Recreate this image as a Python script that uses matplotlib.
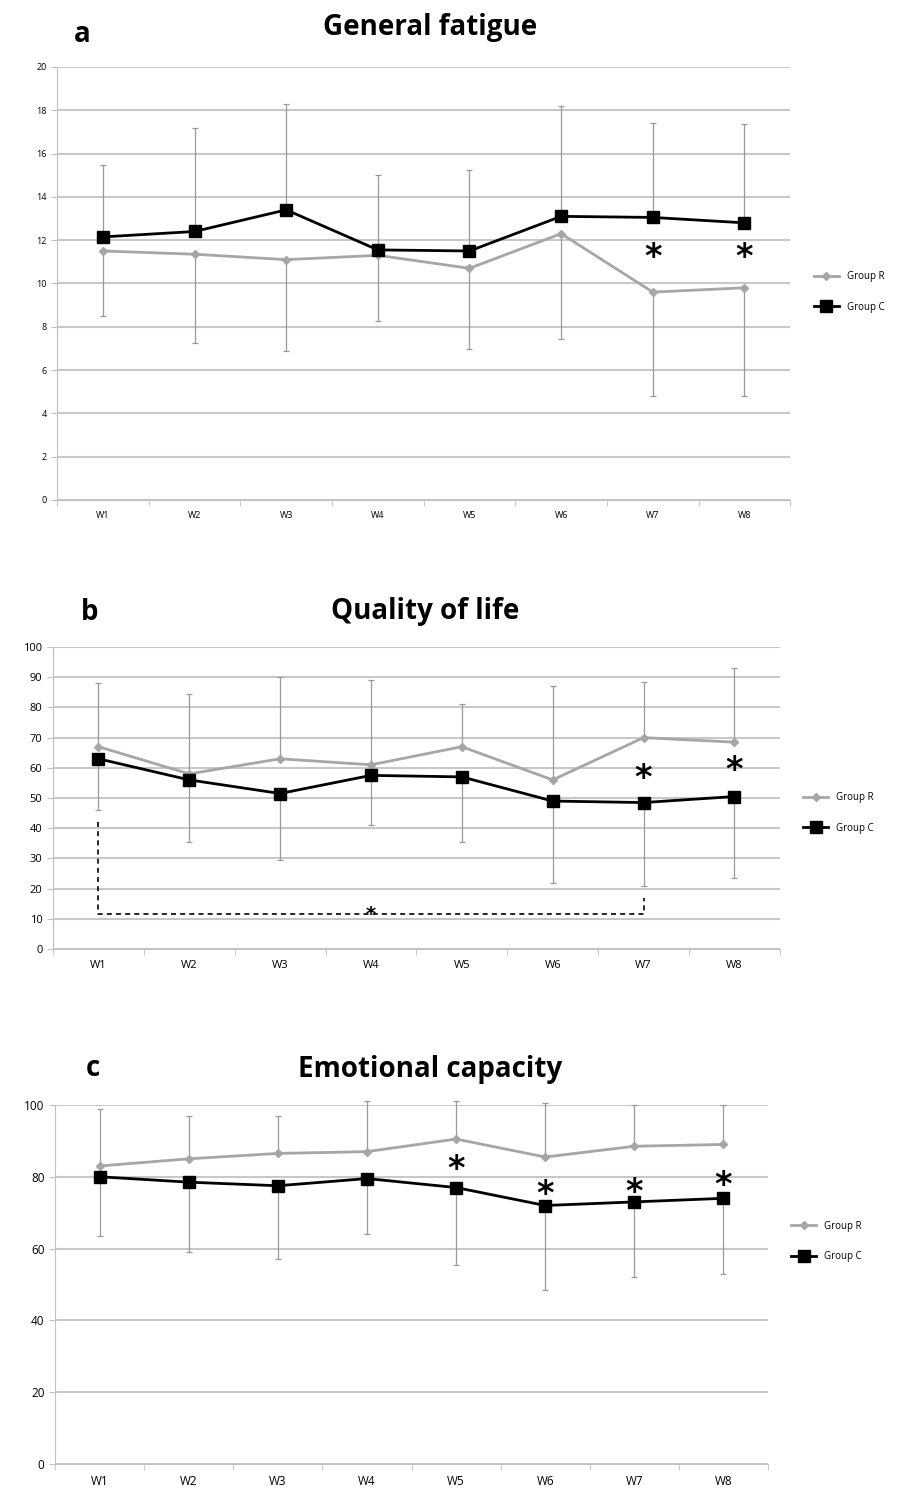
import matplotlib.pyplot as plt
import numpy as np

plt.rcParams['font.family'] = ['Open Sans', 'DejaVu Sans']

weeks = ['W1', 'W2', 'W3', 'W4', 'W5', 'W6', 'W7', 'W8']

# a: general fatigue
fatigue_r = [11.5, 11.35, 11.1, 11.3, 10.7, 12.3, 9.6, 9.8]
fatigue_c = [12.15, 12.4, 13.4, 11.55, 11.5, 13.1, 13.05, 12.8]
fatigue_r_err = [3.0, 4.1, 4.2, 3.05, 3.75, 4.85, 4.8, 5.0]      # drawn downward
fatigue_c_err = [3.3, 4.8, 4.9, 3.45, 3.75, 5.1, 4.35, 4.55]     # drawn upward
fatigue_star_weeks = ['W7', 'W8']
fatigue_star_y = [11.2, 11.2]

# b: quality of life
qol_r = [67, 58, 63, 61, 67, 56, 70, 68.5]
qol_c = [63, 56, 51.5, 57.5, 57, 49, 48.5, 50.5]
qol_r_err = [21, 26.5, 27, 28, 14, 31, 18.5, 24.5]               # upward
qol_c_err = [17, 20.5, 22, 16.5, 21.5, 27, 27.5, 27]             # downward
qol_star_weeks = ['W7', 'W8']
qol_star_y = [56.5, 59]

# c: emotional capacity
emo_r = [83, 85, 86.5, 87, 90.5, 85.5, 88.5, 89]
emo_c = [80, 78.5, 77.5, 79.5, 77, 72, 73, 74]
emo_r_err = [16, 12, 10.5, 14, 10.5, 15, 11.5, 11]               # upward
emo_c_err = [16.5, 19.5, 20.5, 15.5, 21.5, 23.5, 21, 21]         # downward
emo_star_weeks = ['W5', 'W6', 'W7', 'W8']
emo_star_y = [82, 75, 75.5, 77.5]

GRAY = '#a6a6a6'
ERR = '#9a9a9a'


def draw_panel(ax, r, c, r_err, c_err, r_up, ymax, ystep,
               star_weeks, star_y, tick_size, leg_y):
    x = np.arange(len(weeks))
    zeros = np.zeros(len(weeks))
    if r_up:
        r_yerr = [zeros, r_err]
        c_yerr = [c_err, zeros]
    else:
        r_yerr = [r_err, zeros]
        c_yerr = [zeros, c_err]

    ax.errorbar(x, r, yerr=r_yerr, fmt='none', ecolor=ERR, elinewidth=0.9,
                capsize=2, capthick=0.9, clip_on=False, zorder=2)
    ax.errorbar(x, c, yerr=c_yerr, fmt='none', ecolor=ERR, elinewidth=0.9,
                capsize=2, capthick=0.9, clip_on=False, zorder=2)
    ax.plot(x, r, color=GRAY, lw=2, marker='D', ms=4, label='Group R', zorder=3)
    ax.plot(x, c, color='black', lw=2, marker='s', ms=8, label='Group C', zorder=4)

    for w, y in zip(star_weeks, star_y):
        ax.text(weeks.index(w), y, '*', ha='center', va='center', fontsize=24,
                fontweight='bold', fontfamily='DejaVu Sans', zorder=5)

    ax.set_xlim(-0.5, len(weeks) - 0.5)
    ax.set_ylim(0, ymax)
    ax.set_yticks(np.arange(0, ymax + ystep / 2, ystep))
    ax.set_xticks(x)
    ax.set_xticklabels(weeks)
    ax.set_xticks(np.arange(-0.5, len(weeks)), minor=True)
    ax.tick_params(axis='x', which='major', length=0, pad=8, labelsize=tick_size)
    ax.tick_params(axis='x', which='minor', length=4, color='#c0c0c0')
    ax.tick_params(axis='y', length=4, color='#c0c0c0', labelsize=tick_size)
    ax.yaxis.grid(True, color='#c8c8c8', lw=1.5)
    ax.set_axisbelow(True)
    for s in ['top', 'right']:
        ax.spines[s].set_visible(False)
    for s in ['left', 'bottom']:
        ax.spines[s].set_color('#c0c0c0')

    ax.legend(loc='center left', bbox_to_anchor=(1.02, leg_y), frameon=False,
              fontsize=7, handlelength=2.6, labelspacing=2.0)


fig = plt.figure(figsize=(9.2, 14.95), dpi=100)
ax_a = fig.add_axes([0.062, 0.6656, 0.797, 0.2896])
ax_b = fig.add_axes([0.0576, 0.3652, 0.790, 0.2020])
ax_c = fig.add_axes([0.0598, 0.0207, 0.775, 0.2402])

draw_panel(ax_a, fatigue_r, fatigue_c, fatigue_r_err, fatigue_c_err, False,
           20, 2, fatigue_star_weeks, fatigue_star_y, 6.5, 0.48)
draw_panel(ax_b, qol_r, qol_c, qol_r_err, qol_c_err, True,
           100, 10, qol_star_weeks, qol_star_y, 8, 0.45)
draw_panel(ax_c, emo_r, emo_c, emo_r_err, emo_c_err, True,
           100, 20, emo_star_weeks, emo_star_y, 8.5, 0.62)

# dashed bracket W1 -> W7 in panel b
ax_b.plot([0, 0, 6, 6], [42, 11.5, 11.5, 17], ls='--', color='black', lw=1.2,
          dashes=(3, 2.5), zorder=3)
ax_b.text(3, 11.5, '*', ha='center', va='center', fontsize=14,
          fontweight='bold', fontfamily='DejaVu Sans', zorder=5)

# titles and panel letters
titles = ['General fatigue', 'Quality of life', 'Emotional capacity']
letters = ['a', 'b', 'c']
title_pos = [(430, 28), (425, 612), (430, 1069)]
letter_pos = [(82, 34), (90, 612), (93, 1069)]
W, H = 920, 1495
for t, (tx, ty) in zip(titles, title_pos):
    fig.text(tx / W, 1 - ty / H, t, ha='center', va='center', fontsize=20,
             fontweight='bold')
for l, (lx, ly) in zip(letters, letter_pos):
    fig.text(lx / W, 1 - ly / H, l, ha='center', va='center', fontsize=20,
             fontweight='bold')

fig.savefig('out.png', dpi=100)
